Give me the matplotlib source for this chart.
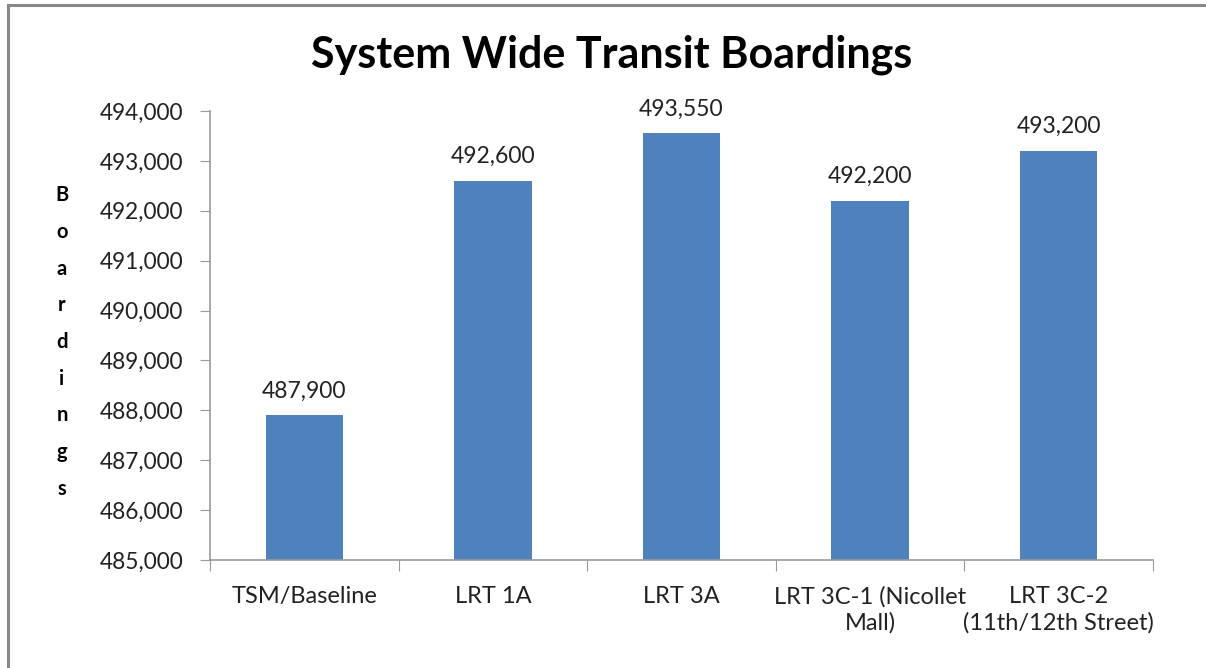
import matplotlib
matplotlib.use("Agg")
import matplotlib.pyplot as plt
from matplotlib.lines import Line2D
from matplotlib.ticker import FuncFormatter

# Datos
categorias = ["TSM/Baseline", "LRT 1A", "LRT 3A", "LRT 3C-1 (Nicollet\nMall)",
              "LRT 3C-2\n(11th/12th Street)"]
abordajes = [487900, 492600, 493550, 492200, 493200]
y_ticks = [485000, 486000, 487000, 488000, 489000, 490000, 491000, 492000, 493000, 494000]

plt.rcParams['font.family'] = ['Lato', 'DejaVu Sans']

fig = plt.figure(figsize=(12.06, 6.68), dpi=100)
ax = fig.add_axes([210 / 1206, 1 - 560 / 668, (1153 - 210) / 1206, (560 - 111) / 668])

x = list(range(len(categorias)))
ax.bar(x, [v - 485000 for v in abordajes], bottom=485000, width=0.41, color='#4F81BD')

for xi, v in zip(x, abordajes):
    ax.annotate(f"{v:,}", (xi, v), xytext=(0, 10), textcoords='offset points',
                ha='center', va='bottom', fontsize=16.5, color='#222222')

ax.set_xlim(-0.5, len(categorias) - 0.5)
ax.set_ylim(485000, 494000)
ax.set_yticks(y_ticks)
ax.yaxis.set_major_formatter(FuncFormatter(lambda v, p: f"{int(v):,}"))
ax.set_xticks([i - 0.5 for i in range(len(categorias) + 1)], minor=False)
ax.set_xticklabels([])
ax.set_xticks(x, minor=True)
ax.set_xticklabels(categorias, minor=True, fontsize=17, color='#222222', linespacing=1.25)
ax.tick_params(axis='x', which='minor', length=0, pad=19)
ax.tick_params(axis='x', which='major', length=8, direction='out', color='#999999')
ax.tick_params(axis='y', length=7, direction='out', color='#999999', labelsize=16.3,
               labelcolor='#222222', pad=12)

for s in ['top', 'right']:
    ax.spines[s].set_visible(False)
for s in ['left', 'bottom']:
    ax.spines[s].set_color('#999999')
    ax.spines[s].set_linewidth(1.2)

fig.text(612 / 1206, 1 - 55 / 668, "System Wide Transit Boardings", ha='center', va='center',
         fontsize=31, fontweight='bold', color='black')
fig.text(62 / 1206, 1 - 342 / 668, "\n".join("Boardings"), ha='center', va='center',
         fontsize=14.5, fontweight='bold', linespacing=2.04)

# marco del grafico
fig.add_artist(Line2D([8 / 1206, 1], [1 - 5 / 668, 1 - 5 / 668], color='#888888', lw=2.2))
fig.add_artist(Line2D([8 / 1206, 8 / 1206], [0, 1 - 5 / 668], color='#888888', lw=2.2))

fig.savefig("out.png", dpi=100)
